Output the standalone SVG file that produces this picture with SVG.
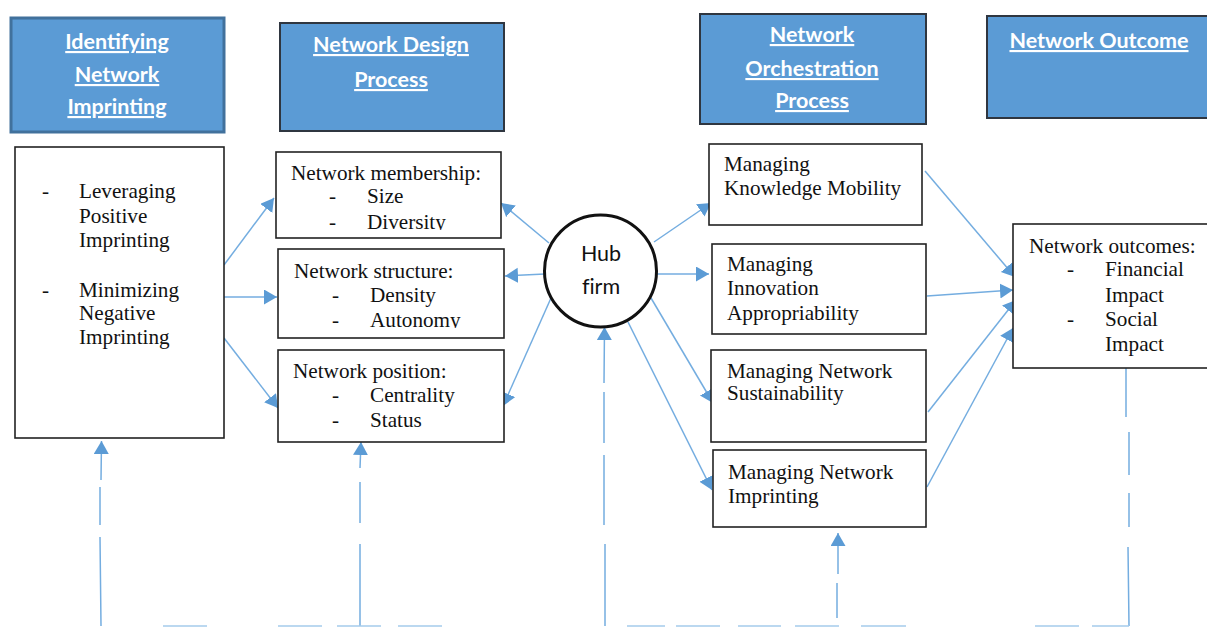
<svg xmlns="http://www.w3.org/2000/svg" width="1207" height="627" viewBox="0 0 1207 627">
<style>
.hd{fill:#5b9bd5;stroke:#2f3640;stroke-width:2}
.bx{fill:#fff;stroke:#222;stroke-width:1.6}
.ht{font-family:"Lato","Liberation Sans",sans-serif;font-weight:700;font-size:21.5px;fill:#fff;text-anchor:middle;text-decoration:underline}
.t{font-family:"Liberation Serif","Times New Roman",serif;font-size:21.2px;fill:#111}
.hub{font-family:"Lato","Liberation Sans",sans-serif;font-size:21.5px;fill:#111;text-anchor:middle;font-variant-ligatures:none}
.c{fill:none;stroke:#74ade0;stroke-width:1.5}
.b{fill:none;stroke:#a5cbec;stroke-width:1.5}
.a{marker-end:url(#arr)}
</style>
<defs>
<marker id="arr" markerUnits="userSpaceOnUse" markerWidth="16" markerHeight="16" refX="13" refY="7.5" orient="auto"><path d="M0 0L13 7.5L0 15Z" fill="#5b9bd5"/></marker>
<clipPath id="clipM"><rect x="276" y="152" width="225" height="78"/></clipPath>
<clipPath id="clipS"><rect x="278" y="249" width="226" height="79"/></clipPath>
</defs>
<rect width="1207" height="627" fill="#fff"/>
<g id="connectors">
<path class="c a" d="M224 265L274 198"/>
<path class="c a" d="M224 297L277 297"/>
<path class="c a" d="M224 338L278 408"/>
<path class="c a" d="M549 243L501 203"/>
<path class="c a" d="M545 274L505 276"/>
<path class="c a" d="M551 298L503 406"/>
<path class="c a" d="M654 242L711 203"/>
<path class="c a" d="M657 274L709 274"/>
<path class="c a" d="M651 298L713 403"/>
<path class="c a" d="M628 322L712 490"/>
<path class="c a" d="M925 171L1015 277"/>
<path class="c a" d="M927 296L1013 290"/>
<path class="c a" d="M928 412L1016 300"/>
<path class="c a" d="M927 487L1013 328"/>
<path class="c a" d="M101 626L100 537M100 525L100 487M101 480L101.5 441"/>
<path class="c a" d="M360 626L360 544M360 523L360 482M360 468L361 442"/>
<path class="c a" d="M605 626L605 544M604 525L604 455M604 443L604 392M604 383L604.5 327"/>
<path class="c a" d="M837 618L837 583M838 574L838 533"/>
<path class="c" d="M1126 367L1126 417M1129 432L1129 475M1129 493L1129 527M1128 547L1129 626"/>
<path class="b" d="M163 626H207M278 626H322M337 626H381M398 626H442M627 626H665M676 626H720M738 626H781M795 626H839M861 626H906M1035 626H1079M1092 626H1129"/>
</g>
<g id="head-imprinting"><rect x="11" y="18" width="213" height="114" fill="#5b9bd5" stroke="#41719c" stroke-width="3"/><text class="ht" x="117" y="49">Identifying</text><text class="ht" x="117" y="82">Network</text><text class="ht" x="117" y="114">Imprinting</text></g>
<g id="head-design"><rect class="hd" x="280" y="23" width="224" height="108"/><text class="ht" x="391" y="52">Network Design</text><text class="ht" x="391" y="87">Process</text></g>
<g id="head-orchestration"><rect class="hd" x="700" y="14" width="226" height="110"/><text class="ht" x="812" y="42">Network</text><text class="ht" x="812" y="76">Orchestration</text><text class="ht" x="812" y="108">Process</text></g>
<g id="head-outcome"><rect class="hd" x="987" y="16" width="225" height="102"/><text class="ht" x="1099" y="48">Network Outcome</text></g>
<g id="imprinting"><rect class="bx" x="15" y="147" width="209" height="291"/>
<text class="t" x="42" y="198">-</text><text class="t" x="79" y="198">Leveraging</text><text class="t" x="79" y="223">Positive</text><text class="t" x="79" y="247">Imprinting</text>
<text class="t" x="42" y="297">-</text><text class="t" x="79" y="297">Minimizing</text><text class="t" x="79" y="320">Negative</text><text class="t" x="79" y="344">Imprinting</text></g>
<g id="membership"><rect class="bx" x="276" y="152" width="225" height="86"/>
<text class="t" x="291" y="180">Network membership:</text><text class="t" x="329" y="203">-</text><text class="t" x="367" y="203">Size</text><g clip-path="url(#clipM)"><text class="t" x="329" y="229">-</text><text class="t" x="367" y="229">Diversity</text></g></g>
<g id="structure"><rect class="bx" x="278" y="249" width="226" height="89"/>
<text class="t" x="294" y="278">Network structure:</text><text class="t" x="332" y="302">-</text><text class="t" x="370" y="302">Density</text><g clip-path="url(#clipS)"><text class="t" x="332" y="327">-</text><text class="t" x="370" y="327">Autonomy</text></g></g>
<g id="position"><rect class="bx" x="278" y="350" width="226" height="92"/>
<text class="t" x="293" y="378">Network position:</text><text class="t" x="332" y="402">-</text><text class="t" x="370" y="402">Centrality</text><text class="t" x="332" y="427">-</text><text class="t" x="370" y="427">Status</text></g>
<g id="hub"><circle cx="600.5" cy="271" r="56" fill="#fff" stroke="#111" stroke-width="3"/><text class="hub" x="601" y="261">Hub</text><text class="hub" x="601" y="294">firm</text></g>
<g id="knowledge"><rect class="bx" x="709" y="144" width="213" height="81"/><text class="t" x="724" y="171">Managing</text><text class="t" x="724" y="195">Knowledge Mobility</text></g>
<g id="innovation"><rect class="bx" x="712" y="244" width="214" height="90"/><text class="t" x="727" y="271">Managing</text><text class="t" x="727" y="295">Innovation</text><text class="t" x="727" y="320">Appropriability</text></g>
<g id="sustainability"><rect class="bx" x="711" y="350" width="215" height="92"/><text class="t" x="727" y="378">Managing Network</text><text class="t" x="727" y="400">Sustainability</text></g>
<g id="net-imprinting"><rect class="bx" x="713" y="450" width="213" height="77"/><text class="t" x="728" y="479">Managing Network</text><text class="t" x="728" y="503">Imprinting</text></g>
<g id="outcomes"><rect class="bx" x="1013" y="224" width="200" height="144"/>
<text class="t" x="1029" y="253">Network outcomes:</text><text class="t" x="1067" y="276">-</text><text class="t" x="1105" y="276">Financial</text><text class="t" x="1105" y="302">Impact</text><text class="t" x="1067" y="326">-</text><text class="t" x="1105" y="326">Social</text><text class="t" x="1105" y="351">Impact</text></g>
</svg>
